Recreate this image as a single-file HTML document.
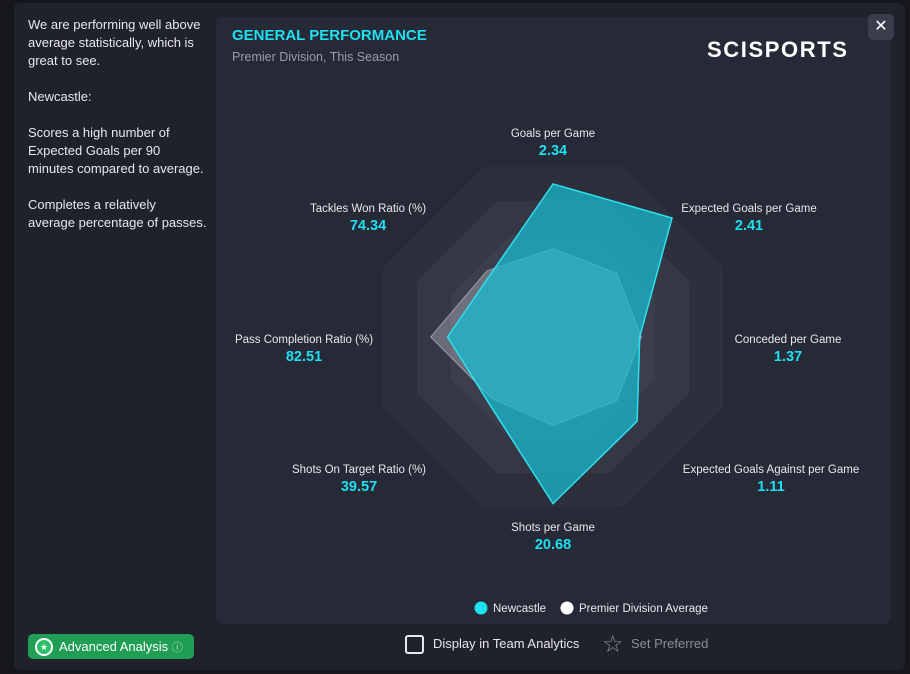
<!DOCTYPE html>
<html><head><meta charset="utf-8"><style>
body{margin:0;width:910px;height:674px;background:#16171d;font-family:"Liberation Sans",sans-serif;overflow:hidden;position:relative}
.modal{position:absolute;left:14px;top:3px;width:891px;height:667px;background:#1f212b;border-radius:6px}
.panel{position:absolute;left:216px;top:17px;width:675px;height:607px;background:#262936;border-radius:6px}
.side{position:absolute;left:28px;top:16px;width:200px;color:#e8e8ec;font-size:13px;line-height:18px;white-space:nowrap}
.side p{margin:0 0 18px}
.title{position:absolute;left:232px;top:27px;color:#1ee0f0;font-weight:bold;font-size:15px}
.sub{position:absolute;left:232px;top:50px;color:#9a9caa;font-size:12.5px}
.logo{position:absolute;left:707px;top:37px;color:#fff;font-weight:bold;font-size:22px;letter-spacing:1.6px}
.close{position:absolute;left:868px;top:14px;width:26px;height:26px;border-radius:5px;background:#3a3d4b;color:#fff;text-align:center;line-height:26px;font-size:16px}
.btn{position:absolute;left:28px;top:634px;width:166px;height:25px;background:#1f9e54;border-radius:5px;color:#fff;font-size:13px;display:flex;align-items:center}
.ic{width:14px;height:14px;border:2px solid #fff;border-radius:50%;margin:0 6px 0 7px;background:#2bbf6a;font-size:9px;line-height:14px;text-align:center}
.chk{position:absolute;left:405px;top:635px;width:15px;height:15px;border:2px solid #e8e8ec;border-radius:3px}
.ft{position:absolute;color:#e8e8ec;font-size:13px;top:636px}
</style></head><body>
<div class="modal"></div>
<div class="side">
<p>We are performing well above<br>average statistically, which is<br>great to see.</p>
<p>Newcastle:</p>
<p>Scores a high number of<br>Expected Goals per 90<br>minutes compared to average.</p>
<p>Completes a relatively<br>average percentage of passes.</p></div>
<div class="panel"></div>
<div class="title">GENERAL PERFORMANCE</div>
<div class="sub">Premier Division, This Season</div>
<div class="logo">SCISPORTS</div>
<div class="close">✕</div>
<svg id="radar" width="910" height="674" style="position:absolute;left:0;top:0"></svg>
<div class="btn"><span class="ic">★</span>Advanced Analysis&nbsp;<span style="color:#bfe6cc;font-size:11px">ⓘ</span></div>
<div class="chk"></div>
<div class="ft" style="left:433px">Display in Team Analytics</div>
<div class="ft" style="left:602px;top:630px;color:#8a8c98;font-size:24px">☆</div>
<div class="ft" style="left:631px;color:#8a8c98">Set Preferred</div>
<script>
const categories=["Goals per Game","Expected Goals per Game","Conceded per Game","Expected Goals Against per Game","Shots per Game","Shots On Target Ratio (%)","Pass Completion Ratio (%)","Tackles Won Ratio (%)"];
const printedValues=["2.34","2.41","1.37","1.11","20.68","39.57","82.51","74.34"];
const teamValues=[0.90,0.99,0.51,0.70,0.98,0.54,0.62,0.52];
const avgValues=[0.52,0.53,0.52,0.53,0.52,0.51,0.72,0.55];
const seriesNames=["Newcastle","Premier Division Average"];
const NS="http://www.w3.org/2000/svg",svg=document.getElementById('radar');
const cx=553,cy=337,R=170;
function pt(i,v){const a=i*Math.PI/4;return [cx+Math.sin(a)*R*v,cy-Math.cos(a)*R*v];}
function poly(vals){return vals.map((v,i)=>pt(i,v).join(',')).join(' ');}
function ring(f){const rr=R*f/Math.cos(Math.PI/8);let s=[];for(let k=0;k<8;k++){const a=k*Math.PI/4+Math.PI/8;s.push((cx+Math.sin(a)*rr)+','+(cy-Math.cos(a)*rr));}return s.join(' ');}
function mk(t,at){const e=document.createElementNS(NS,t);for(const k in at)e.setAttribute(k,at[k]);svg.appendChild(e);return e;}
const ringCols=["#2d2f3c","#353745","#3c3e4d","#424454","#47495a"];
for(let r=0;r<5;r++){const f=1-r*0.2;const e=mk('polygon',{points:ring(f),fill:ringCols[r]});

}
const av=mk('polygon',{points:poly(avgValues),fill:"rgba(205,205,215,0.35)",stroke:"rgba(220,220,230,0.5)","stroke-width":1});


const tm=mk('polygon',{points:poly(teamValues),fill:"rgba(24,190,210,0.72)",stroke:"#2ee0ee","stroke-width":1.5});


const lp=[[553,133],[749,208],[788,339],[771,469],[553,527],[359,469],[304,339],[368,208]];
categories.forEach((c,i)=>{
const t=mk('text',{x:lp[i][0],y:lp[i][1]+4,fill:"#e8e8ec","font-size":11.5,"text-anchor":"middle","font-family":"Liberation Sans"});t.textContent=c;


const v=mk('text',{x:lp[i][0],y:lp[i][1]+22,fill:"#1ee0f0","font-size":14.5,"font-weight":"bold","text-anchor":"middle","font-family":"Liberation Sans"});v.textContent=printedValues[i];

});
const lg=[[481,608,"#1ee0f0",493],[567,608,"#ffffff",579]];
seriesNames.forEach((n,i)=>{
const c=mk('circle',{cx:lg[i][0],cy:lg[i][1],r:6.5,fill:lg[i][2]});


const t=mk('text',{x:lg[i][3],y:lg[i][1]+4,fill:"#e8e8ec","font-size":11.5,"font-family":"Liberation Sans"});t.textContent=n;

});
</script>
</body></html>
